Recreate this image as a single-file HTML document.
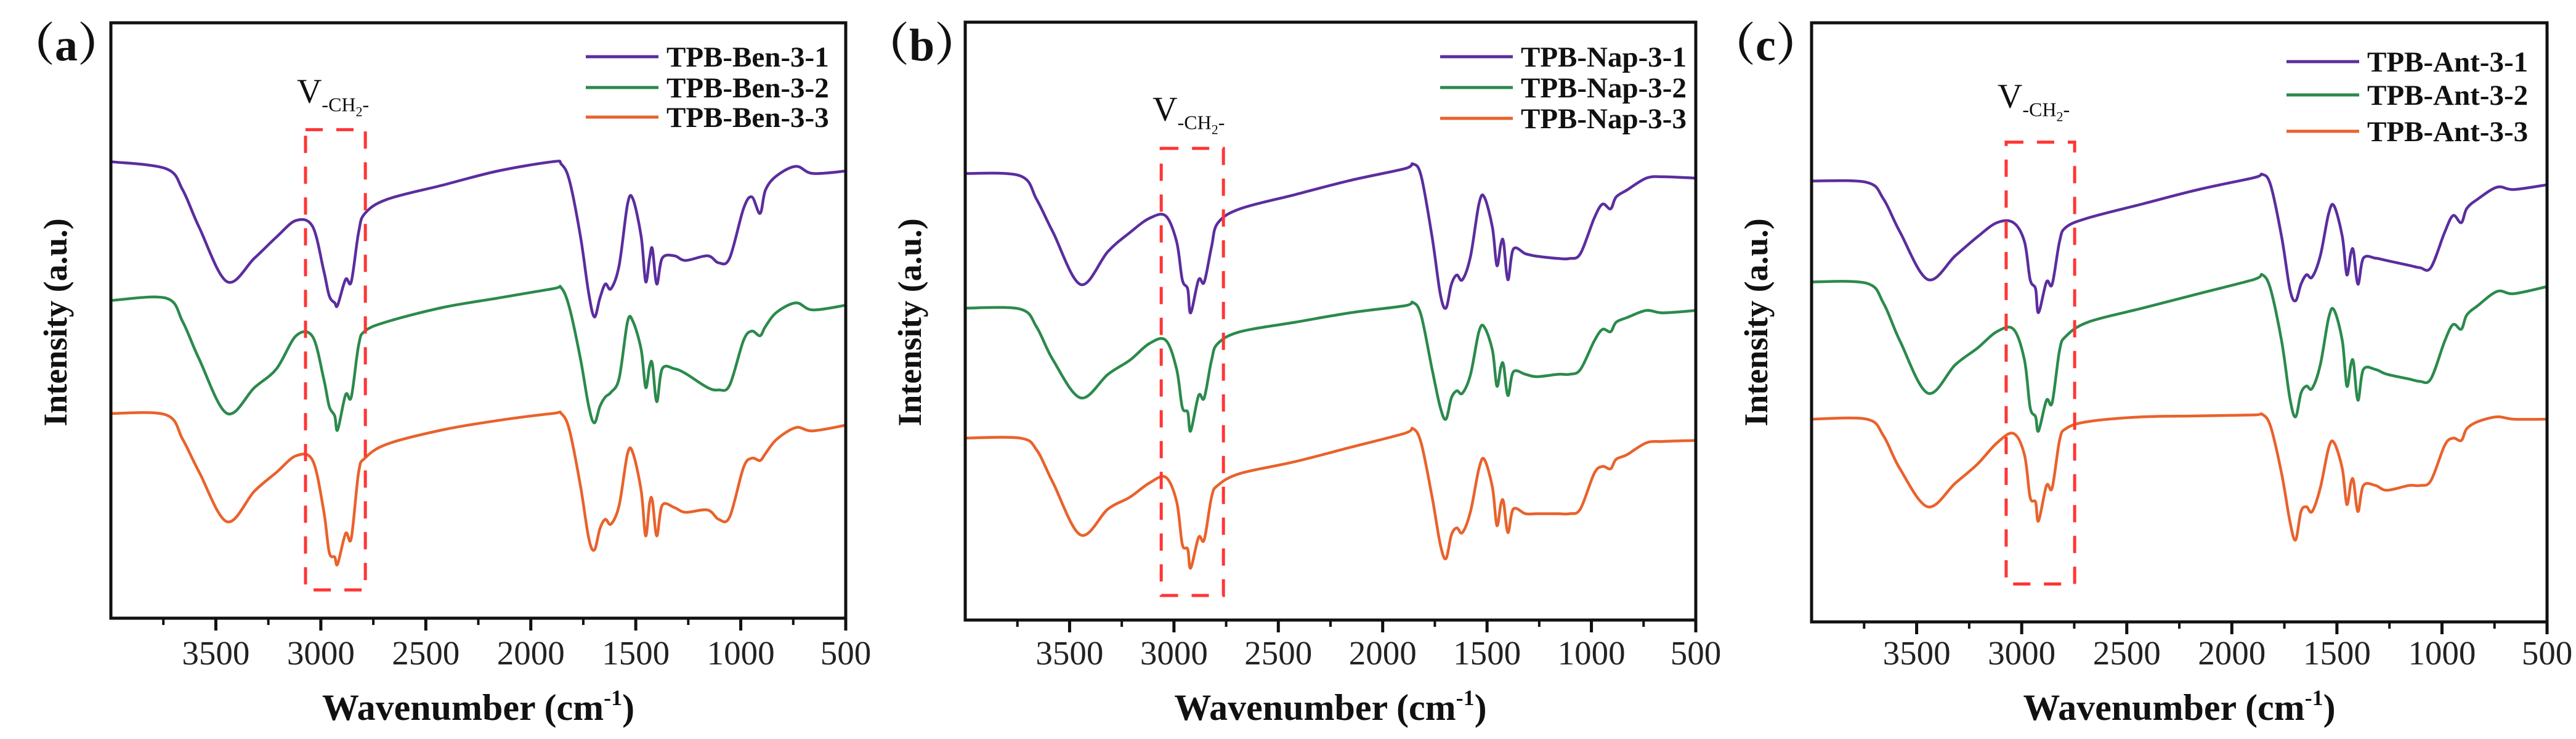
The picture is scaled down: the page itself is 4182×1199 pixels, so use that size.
<!DOCTYPE html>
<html><head><meta charset="utf-8"><style>
html,body{margin:0;padding:0;background:#fff;}
svg{display:block;font-family:"Liberation Serif","Times New Roman",serif;}
</style></head><body>
<svg id="fig" width="4182" height="1199" viewBox="0 0 4182 1199" xmlns="http://www.w3.org/2000/svg"></svg>
<script>
// Shared wavenumber sample positions (cm-1)
const wavenumbers = [4000,3737,3658,3579,3447,3316,3211,3118,3039,2987,2960,2934,2920,2882,2855,2820,2790,2684,2421,2158,1895,1855,1816,1763,1724,1697,1671,1645,1618,1579,1539,1513,1474,1453,1434,1421,1400,1374,1316,1263,1158,1105,1053,987,947,908,882,829,737,658,500];
const xTicks = [3500,3000,2500,2000,1500,1000,500];
const xTickLabels = ["3500","3000","2500","2000","1500","1000","500"];
const xMinorTicks = [3750,3250,2750,2250,1750,1250,750];
const yDomain = [0,1265];
// Panel (a) TPB-Ben
const benSeries1 = [970,955,910,830,715,765,810,845,832,740,685,670,665,720,715,820,860,890,920,950,970,965,930,810,690,640,680,710,700,750,880,890,810,715,765,785,710,765,770,760,770,755,765,870,895,860,910,940,960,945,950];
const benSeries2 = [675,680,630,550,435,490,530,600,598,510,450,430,400,475,470,580,610,630,660,680,700,702,660,550,450,415,450,470,480,510,630,630,570,490,535,540,460,530,530,520,490,485,495,590,610,600,620,650,670,655,665];
const benSeries3 = [435,432,380,310,205,270,310,345,335,230,140,130,115,180,170,310,340,370,400,420,435,435,400,280,170,145,190,210,200,240,350,350,270,175,245,250,175,240,235,225,230,210,215,320,340,335,350,380,405,398,410];
// Panel (b) TPB-Nap
const napSeries1 = [945,940,890,820,710,780,820,850,855,800,720,700,650,720,715,790,840,870,900,930,955,965,940,810,690,660,710,730,720,770,880,895,830,750,795,800,720,785,775,770,765,765,775,850,880,870,895,910,935,938,935];
const napSeries2 = [660,658,620,550,470,520,550,585,592,530,450,440,400,475,470,550,585,610,630,650,665,672,645,530,450,425,470,485,480,520,610,620,570,495,535,540,475,525,520,515,520,520,530,590,615,610,630,640,655,650,655];
const napSeries3 = [385,385,360,290,180,235,260,290,302,250,160,150,110,175,170,260,285,310,335,365,395,405,375,260,160,130,180,195,185,230,320,340,280,200,245,250,185,235,225,225,225,225,235,310,325,320,340,350,375,378,380];
// Panel (c) TPB-Ant
const antSeries1 = [931,928,893,823,723,773,813,843,843,803,723,703,653,718,713,803,833,853,883,913,938,945,923,813,703,678,713,733,728,773,863,878,813,733,778,783,713,768,768,763,753,748,748,823,858,843,873,893,918,913,923];
const antSeries2 = [718,715,673,593,483,543,578,613,618,553,453,433,403,468,463,573,603,633,663,693,723,733,703,593,473,433,483,498,493,543,643,658,593,498,543,548,468,533,533,523,513,508,513,593,628,618,648,668,698,693,708];
const antSeries3 = [428,428,393,323,243,293,333,378,398,353,263,253,213,288,283,383,408,423,433,435,437,438,413,313,213,173,233,243,233,283,368,378,323,248,293,298,233,288,288,278,288,288,298,373,388,383,408,423,433,428,428];
const benLabels = ["TPB-Ben-3-1","TPB-Ben-3-2","TPB-Ben-3-3"];
const napLabels = ["TPB-Nap-3-1","TPB-Nap-3-2","TPB-Nap-3-3"];
const antLabels = ["TPB-Ant-3-1","TPB-Ant-3-2","TPB-Ant-3-3"];
// highlighted CH2 region [wnHigh, wnLow, intensityTop, intensityBottom]
const benBox = [3073,2788,1038,60];
const napBox = [3061,2763,998,52];
const antBox = [3074,2748,1013,80];

const colors = ["#5b2d9e","#2b8a4c","#e9622b"];
const NS = "http://www.w3.org/2000/svg";
const svg = document.getElementById('fig');
function mk(tag, attrs, parent){ const e=document.createElementNS(NS,tag); for(const k in attrs) e.setAttribute(k,attrs[k]); (parent||svg).appendChild(e); return e; }

function smoothPath(pts){
  let d='M'+pts[0][0].toFixed(1)+','+pts[0][1].toFixed(1);
  for(let i=0;i<pts.length-1;i++){
    const p0=pts[Math.max(0,i-1)], p1=pts[i], p2=pts[i+1], p3=pts[Math.min(pts.length-1,i+2)];
    const c1x=p1[0]+(p2[0]-p0[0])/6, c1y=p1[1]+(p2[1]-p0[1])/6;
    const c2x=p2[0]-(p3[0]-p1[0])/6, c2y=p2[1]-(p3[1]-p1[1])/6;
    d+='C'+c1x.toFixed(1)+','+c1y.toFixed(1)+' '+c2x.toFixed(1)+','+c2y.toFixed(1)+' '+p2[0].toFixed(1)+','+p2[1].toFixed(1);
  }
  return d;
}

const panels = [
 {id:'a', x0:180, x1:1373, y0:37, y1:1003, series:[benSeries1,benSeries2,benSeries3], labels:benLabels, box:benBox, legY:[92,142,190], vDy:44},
 {id:'b', x0:1567, x1:2753, y0:36, y1:1006, series:[napSeries1,napSeries2,napSeries3], labels:napLabels, box:napBox, legY:[92,142,192], vDy:45},
 {id:'c', x0:2941, x1:4135, y0:37, y1:1009, series:[antSeries1,antSeries2,antSeries3], labels:antLabels, box:antBox, legY:[100,154,213], vDy:56}
];

panels.forEach(p=>{
  const g = mk('g',{});
  
  
  const xs = wn => p.x0 + (4000-wn)/3500*(p.x1-p.x0);
  const ys = v => p.y1 - (v-yDomain[0])/(yDomain[1]-yDomain[0])*(p.y1-p.y0);
  p.series.forEach((s,i)=>{
    const pts = s.map((v,j)=>[xs(wavenumbers[j]), ys(v)]);
    const path = mk('path',{d:smoothPath(pts),fill:'none',stroke:colors[i],'stroke-width':4.5,'stroke-linejoin':'round','stroke-linecap':'round'},g);
    
    
  });
  const bx0=xs(p.box[0]), bx1=xs(p.box[1]), by0=ys(p.box[2]), by1=ys(p.box[3]);
  const rect = mk('rect',{x:bx0,y:by0,width:bx1-bx0,height:by1-by0,fill:'none',stroke:'#ff3535','stroke-width':5,'stroke-dasharray':'28,22'},g);
  
  
  const vt = mk('text',{x:bx0-14,y:by0-p.vDy,'font-size':56,fill:'#111'},g);
  
  
  vt.innerHTML = 'V<tspan font-size="32" dy="14">-CH</tspan><tspan font-size="22" dy="8">2</tspan><tspan font-size="32" dy="-8">-</tspan>';
  const fr = mk('rect',{x:p.x0,y:p.y0,width:p.x1-p.x0,height:p.y1-p.y0,fill:'none',stroke:'#111','stroke-width':5},g);
  
  
  xTicks.forEach((t,i)=>{
    const x=xs(t);
    const tk = mk('line',{x1:x,x2:x,y1:p.y1,y2:p.y1+20,stroke:'#111','stroke-width':5},g);
    
    
    const tl = mk('text',{x:x,y:1078,'font-size':55,'text-anchor':'middle',fill:'#222'},g);
    
    
    tl.textContent = xTickLabels[i];
  });
  xMinorTicks.forEach(t=>{
    const x=xs(t);
    const tk = mk('line',{x1:x,x2:x,y1:p.y1,y2:p.y1+11,stroke:'#111','stroke-width':4},g);
    
    
  });
  const xt = mk('text',{x:(p.x0+p.x1)/2,y:1168,'font-size':60,'font-weight':'bold','text-anchor':'middle',fill:'#111'},g);
  
  
  xt.innerHTML = 'Wavenumber (cm<tspan font-size="36" dy="-24">-1</tspan><tspan dy="24">)</tspan>';
  const yx = p.x0-72, yy = 523;
  const yt = mk('text',{x:yx,y:yy,'font-size':54,'font-weight':'bold','text-anchor':'middle',fill:'#111',transform:'rotate(-90 '+yx+' '+yy+')'},g);
  
  
  yt.textContent = 'Intensity (a.u.)';
  const pl = mk('text',{x:p.x0-165,y:98,'font-size':74,'font-weight':'bold',fill:'#111'},g);
  
  
  pl.textContent = '\uFF08'+p.id+'\uFF09';
  pl.setAttribute('font-family','"Liberation Serif","Noto Serif CJK SC",serif');
  p.labels.forEach((lab,i)=>{
    const ly=p.legY[i];
    const ll = mk('line',{x1:p.x0+771,x2:p.x0+889,y1:ly,y2:ly,stroke:colors[i],'stroke-width':5},g);
    
    
    const lt = mk('text',{x:p.x0+902,y:ly+16,'font-size':47,'font-weight':'bold',fill:'#111'},g);
    
    
    lt.textContent = lab;
  });
});
</script>
</body></html>
